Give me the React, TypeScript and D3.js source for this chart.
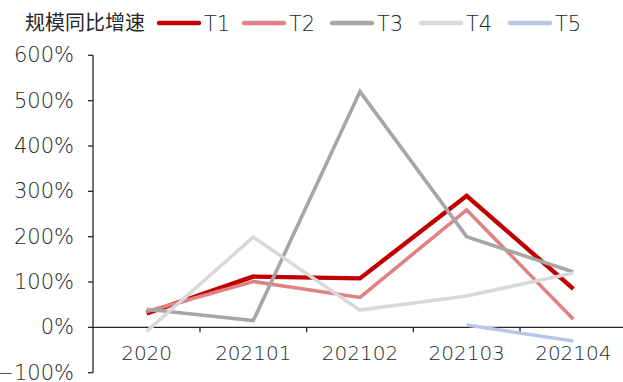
import React from "react";
import * as d3 from "d3";

const categories = ["2020", "202101", "202102", "202103", "202104"];
const seriesNames = ["T1", "T2", "T3", "T4", "T5"];
const t1 = [31, 112, 108, 290, 85];
const t2 = [35, 101, 66, 259, 18];
const t3 = [40, 15, 520, 200, 122];
const t4 = [-9, 199, 38, 69, 120];
const t5: (number | null)[] = [null, null, null, 5, -30];
const yTicks = [-100, 0, 100, 200, 300, 400, 500, 600];
const legendTitle = "规模同比增速";

const colors = ["#C00000", "#E08283", "#A6A6A6", "#D9D9D9", "#B4C7E7"];
const widths = [4.4, 3.6, 3.6, 3.6, 3.6];

export default function App() {
  const W = 623, H = 382;
  const x = d3.scaleBand<string>().domain(categories).range([93.3, 626.7]);
  const y = d3.scaleLinear().domain([-100, 600]).range([372.7, 55.3]);
  const allSeries = [t1, t2, t3, t4, t5];
  const line = d3
    .line<number | null>()
    .defined((d) => d !== null)
    .x((_, i) => (x(categories[i]) as number) + x.bandwidth() / 2)
    .y((d) => y(d as number));
  const font = "'DejaVu Sans', sans-serif";
  const fw = 300;
  const legendX = [159, 244, 332, 421, 510];
  return (
    <svg width={W} height={H} style={{ position: "absolute", left: 0, top: 0, background: "#fff" }}>
      <text x={25} y={30} fontSize={20} fontFamily="'Noto Sans CJK SC', sans-serif" fill="#262626">
        {legendTitle}
      </text>
      {seriesNames.map((s, i) => (
        <g key={s}>
          <line x1={legendX[i]} x2={legendX[i] + 40} y1={23} y2={23} stroke={colors[i]} strokeWidth={4.4} strokeLinecap="round" />
          <text x={legendX[i] + 45} y={30.5} fontSize={21} fontWeight={fw} fontFamily={font} fill="#262626">
            {s}
          </text>
        </g>
      ))}
      {/* y axis */}
      <line x1={93} x2={93} y1={y(600)} y2={y(-100)} stroke="#262626" strokeWidth={1.3} />
      {yTicks.map((t) => (
        <g key={t}>
          <line x1={88} x2={93} y1={y(t)} y2={y(t)} stroke="#262626" strokeWidth={1.3} />
          <text x={74} y={y(t)} dy="0.33em" textAnchor="end" fontSize={21} fontWeight={fw} fontFamily={font} fill="#262626">
            {t < 0 ? "\u2212" + Math.abs(t) + "%" : t + "%"}
          </text>
        </g>
      ))}
      {/* x axis */}
      <line x1={93} x2={623} y1={y(0)} y2={y(0)} stroke="#262626" strokeWidth={1.3} />
      {categories.slice(1).map((c) => (
        <line key={c} x1={x(c) as number} x2={x(c) as number} y1={y(0)} y2={y(0) + 5} stroke="#262626" strokeWidth={1.3} />
      ))}
      {categories.map((c) => (
        <text key={c} x={(x(c) as number) + x.bandwidth() / 2} y={359.5} textAnchor="middle" fontSize={20} fontWeight={fw} fontFamily={font} fill="#262626">
          {c}
        </text>
      ))}
      {allSeries.map((s, i) => (
        <path key={i} d={line(s) || ""} fill="none" stroke={colors[i]} strokeWidth={widths[i]} strokeLinejoin="miter" />
      ))}
    </svg>
  );
}
